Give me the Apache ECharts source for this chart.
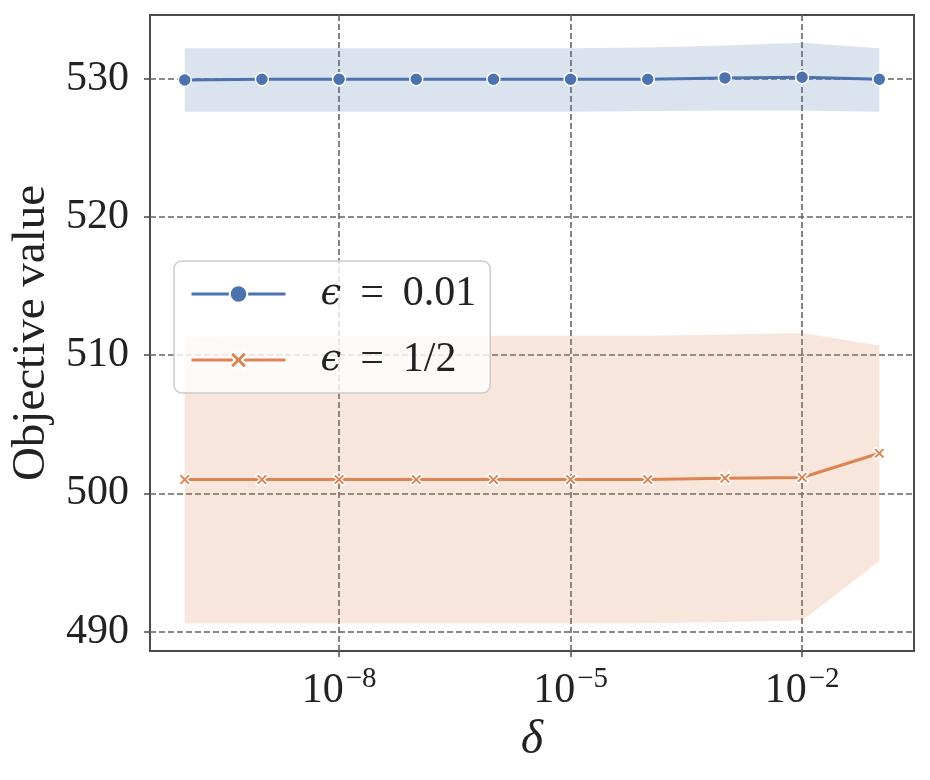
<!DOCTYPE html>
<html>
<head>
<meta charset="utf-8">
<script src="https://cdn.jsdelivr.net/npm/echarts@6/dist/echarts.min.js"></script>
<style>
  html, body { margin: 0; padding: 0; background: #fff; }
  #chart { width: 930px; height: 780px; }
</style>
</head>
<body>
<div id="chart"></div>
<script>
// delta values on the x axis (log scale)
const deltas = [1e-10, 1e-9, 1e-8, 1e-7, 1e-6, 1e-5, 1e-4, 1e-3, 1e-2, 1e-1];

// eps = 0.01
const meanSmall = [529.9, 529.95, 529.95, 529.95, 529.95, 529.95, 529.95, 530.05, 530.1, 529.95];
const lowSmall  = [527.6, 527.6, 527.6, 527.6, 527.6, 527.6, 527.65, 527.7, 527.7, 527.6];
const highSmall = [532.2, 532.2, 532.2, 532.2, 532.2, 532.2, 532.25, 532.4, 532.6, 532.2];

// eps = 1/2
const meanHalf = [501.0, 501.0, 501.0, 501.0, 501.0, 501.0, 501.0, 501.1, 501.15, 502.9];
const lowHalf  = [490.6, 490.6, 490.6, 490.6, 490.6, 490.6, 490.6, 490.7, 490.8, 495.1];
const highHalf = [511.3, 511.4, 511.4, 511.4, 511.4, 511.4, 511.4, 511.5, 511.6, 510.7];

const xTicks = [-8, -5, -2];
const yTicks = [490, 500, 510, 520, 530];

const BLUE = '#4c72b0';
const ORANGE = '#dd8452';
const SERIF = '"Liberation Serif", "DejaVu Serif", serif';
const X_PATH = 'path://M2,0 L5,3 L8,0 L10,2 L7,5 L10,8 L8,10 L5,7 L2,10 L0,8 L3,5 L0,2 Z';

const lx = deltas.map(d => Math.log10(d));

function bandSeries(name, lo, hi, fill) {
  return {
    name: name,
    type: 'custom',
    silent: true,
    z: 1,
    data: lx.map((x, i) => [x, lo[i], hi[i]]),
    renderItem: function (params, api) {
      if (params.dataIndex !== 0) return null;
      const pts = [];
      for (let i = 0; i < lx.length; i++) pts.push(api.coord([lx[i], hi[i]]));
      for (let i = lx.length - 1; i >= 0; i--) pts.push(api.coord([lx[i], lo[i]]));
      return { type: 'polygon', shape: { points: pts }, style: { fill: fill } };
    }
  };
}

function lineSeries(name, vals, color, symbol, size) {
  return {
    name: name,
    type: 'line',
    z: 3,
    data: lx.map((x, i) => [x, vals[i]]),
    symbol: symbol,
    symbolSize: size,
    showSymbol: true,
    lineStyle: { color: color, width: 3 },
    itemStyle: { color: color, borderColor: '#fff', borderWidth: 1.5 },
    emphasis: { disabled: true }
  };
}

const chart = echarts.init(document.getElementById('chart'), null, { renderer: 'canvas' });

chart.setOption({
  animation: false,
  backgroundColor: '#fff',
  grid: {
    left: 150, right: 16, top: 15, bottom: 129,
    outerBoundsMode: 'none',
    containLabel: false,
    show: true, borderColor: '#4a4a4a', borderWidth: 2, backgroundColor: 'transparent'
  },
  xAxis: {
    type: 'value',
    min: -10.45, max: -0.55,
    name: 'δ',
    nameLocation: 'middle',
    nameGap: 60,
    nameTextStyle: { fontFamily: SERIF, fontStyle: 'italic', fontSize: 48, color: '#222' },
    axisLine: { show: false },
    axisTick: { show: true, customValues: xTicks, length: 6, lineStyle: { color: '#4a4a4a', width: 1.5 } },
    axisLabel: {
      customValues: xTicks,
      margin: 14,
      formatter: v => '{b|10}{s|−' + Math.abs(v) + '}',
      rich: {
        b: { fontFamily: SERIF, fontSize: 42, color: '#222' },
        s: { fontFamily: SERIF, fontSize: 29, color: '#222', padding: [0, 0, 22, 2] }
      }
    },
    splitLine: { show: true, lineStyle: { color: '#666', width: 1.6, type: [6, 3] } }
  },
  yAxis: {
    type: 'value',
    min: 488.6, max: 534.6,
    name: 'Objective value',
    nameLocation: 'middle',
    nameGap: 94,
    nameTextStyle: { fontFamily: SERIF, fontSize: 47, color: '#222' },
    axisLine: { show: false },
    axisTick: { show: true, customValues: yTicks, length: 6, lineStyle: { color: '#4a4a4a', width: 1.5 } },
    axisLabel: {
      customValues: yTicks,
      margin: 21,
      fontFamily: SERIF, fontSize: 42, color: '#222'
    },
    splitLine: { show: true, lineStyle: { color: '#666', width: 1.6, type: [6, 3] } }
  },
  legend: {
    data: ['ϵ = 0.01', 'ϵ = 1/2'],
    orient: 'vertical',
    left: 174, top: 261,
    padding: [12, 14, 12, 16],
    itemGap: 24,
    itemWidth: 94,
    itemHeight: 22,
    backgroundColor: 'rgba(255,255,255,0.8)',
    borderColor: '#cccccc',
    borderWidth: 1.5,
    borderRadius: 8,
    selectedMode: false,
    lineStyle: { width: 3 },
    formatter: n => '{e|ϵ}{t|' + n.slice(1).replace(' = ', ' \u2009=\u2009 ') + '}',
    textStyle: {
      padding: [0, 0, 0, 30],
      rich: {
        e: { fontFamily: '"DejaVu Serif", serif', fontStyle: 'italic', fontSize: 37, color: '#222' },
        t: { fontFamily: SERIF, fontSize: 42, color: '#222' }
      }
    }
  },
  series: [
    bandSeries('band-small', lowSmall, highSmall, 'rgba(76,114,176,0.2)'),
    bandSeries('band-half', lowHalf, highHalf, 'rgba(221,132,82,0.2)'),
    lineSeries('ϵ = 0.01', meanSmall, BLUE, 'circle', 13),
    lineSeries('ϵ = 1/2', meanHalf, ORANGE, X_PATH, 12)
  ]
});
</script>
</body>
</html>
